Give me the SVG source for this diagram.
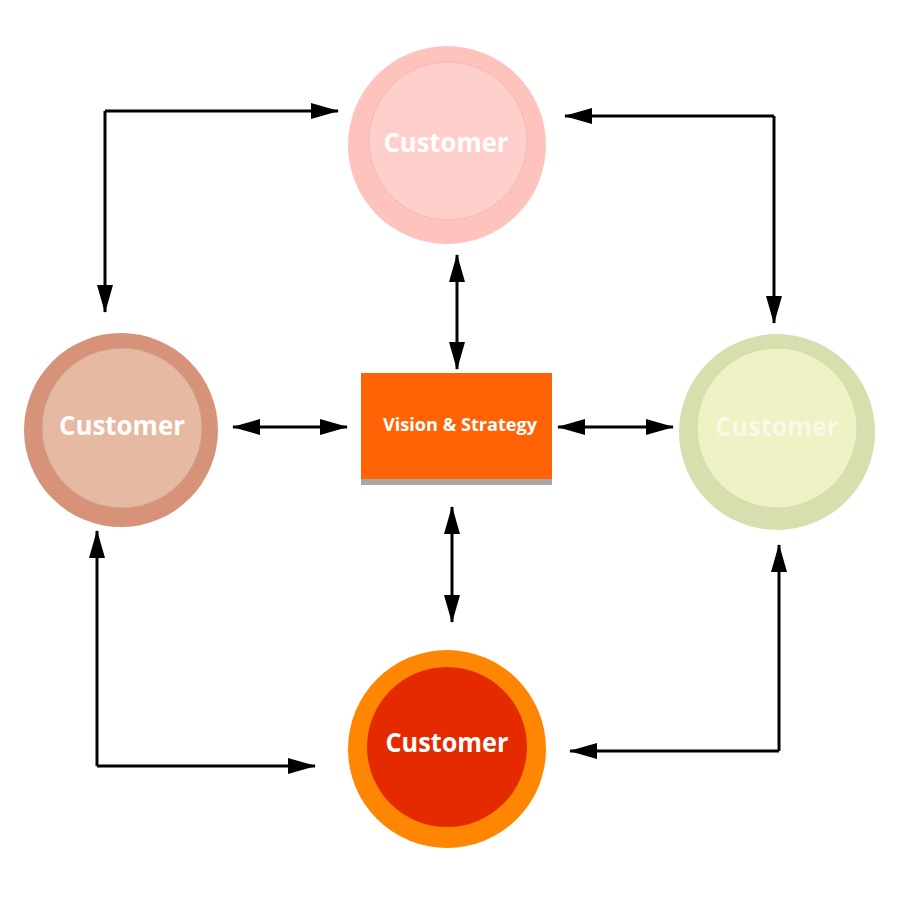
<svg xmlns="http://www.w3.org/2000/svg" width="900" height="900" viewBox="0 0 900 900">
<defs>
<marker id="ah" viewBox="0 0 28 16" refX="27" refY="8" markerWidth="28" markerHeight="16" markerUnits="userSpaceOnUse" orient="auto-start-reverse">
<path d="M0,0 L28,8 L0,16 Z" fill="#000"/>
</marker>
</defs>
<style>
.c{fill:none;stroke:#000;stroke-width:3}
.a{marker-end:url(#ah)}
.b{marker-start:url(#ah);marker-end:url(#ah)}
.t{font-family:"Open Sans","Liberation Sans",sans-serif;font-weight:bold;text-anchor:middle}
.cust{font-size:26px}
</style>
<rect width="900" height="900" fill="#fff"/>
<g id="connectors">
<path class="c a" d="M105,111 L338,111"/>
<path class="c a" d="M105,111 L105,312"/>
<path class="c a" d="M774,116 L565,116"/>
<path class="c a" d="M774,116 L774,323"/>
<path class="c a" d="M97,766 L97,531"/>
<path class="c a" d="M97,766 L315,766"/>
<path class="c a" d="M779,751 L570,751"/>
<path class="c a" d="M779,751 L779,545"/>
<path class="c b" d="M457,255 L457,369"/>
<path class="c b" d="M452,507 L452,622"/>
<path class="c b" d="M233,427 L347,427"/>
<path class="c b" d="M558,427 L673,427"/>
</g>
<g id="customer-top">
<circle cx="447" cy="145" r="99" fill="#FFC3BE"/>
<circle cx="448" cy="141" r="79" fill="#FFD0CB" stroke="#F2B9B3" stroke-width="1"/>
<text class="t cust" x="446" y="152" fill="#fff" textLength="125" lengthAdjust="spacingAndGlyphs">Customer</text>
</g>
<g id="customer-left">
<circle cx="121" cy="430" r="97" fill="#D6937A"/>
<circle cx="122" cy="428" r="80" fill="#E5B9A2" stroke="#D0A08A" stroke-width="1"/>
<text class="t cust" x="122" y="435" fill="#fff" textLength="126" lengthAdjust="spacingAndGlyphs">Customer</text>
</g>
<g id="customer-right">
<circle cx="777" cy="432" r="98" fill="#D8DFAE"/>
<circle cx="777" cy="428" r="80" fill="#EEF2C4" stroke="#D5DBA8" stroke-width="1"/>
<text class="t cust" x="777" y="436" fill="#F8F9E6" textLength="123" lengthAdjust="spacingAndGlyphs">Customer</text>
</g>
<g id="customer-bottom">
<circle cx="447" cy="749" r="99" fill="#FF8602"/>
<circle cx="447" cy="747" r="80" fill="#E52A00"/>
<text class="t cust" x="447" y="752" fill="#fff" textLength="123" lengthAdjust="spacingAndGlyphs">Customer</text>
</g>
<g id="vision-strategy">
<rect x="361" y="479" width="191" height="6" fill="#A9A6A2"/>
<rect x="361" y="373" width="191" height="106" fill="#FF6306"/>
<text class="t" x="460" y="431" font-size="17" fill="#fff" textLength="154" lengthAdjust="spacingAndGlyphs">Vision &amp; Strategy</text>
</g>
</svg>
